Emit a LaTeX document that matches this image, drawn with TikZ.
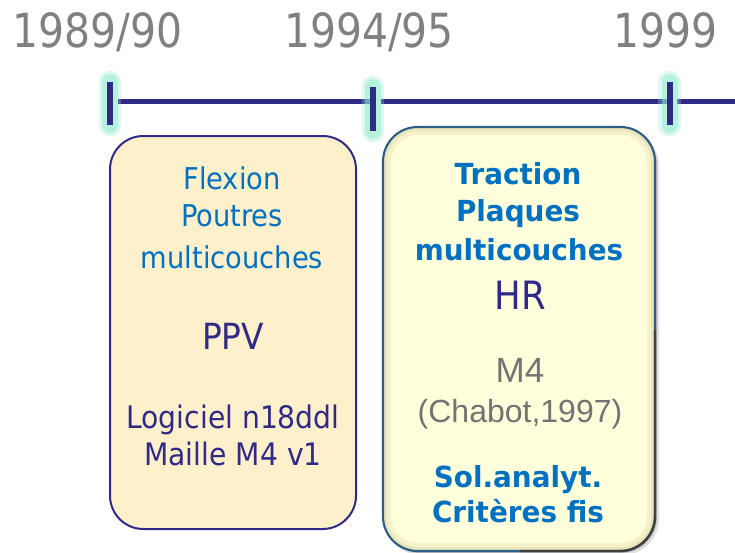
\documentclass[tikz,border=0pt]{standalone}
\usepackage{fontspec}
\setmainfont{DejaVu Sans}
\newfontfamily\yearf{DejaVu Sans}[FakeStretch=0.87]
\newfontfamily\regf{DejaVu Sans}[FakeStretch=0.91]
\newfontfamily\boldf{DejaVu Sans}[FakeStretch=0.96]
\newfontfamily\arialf{Liberation Sans}
\definecolor{navy}{HTML}{2E2A85}
\definecolor{txtblue}{HTML}{0070C0}
\definecolor{yeargray}{HTML}{808080}
\definecolor{glow}{HTML}{8FEBCB}
\definecolor{cream}{HTML}{FFF0CC}
\definecolor{paleyel}{HTML}{FFFFDC}
\definecolor{edgeblue}{HTML}{2B5F86}
\definecolor{innerrim}{HTML}{E3DAAE}
\tikzset{
  yearlabel/.style={anchor=base, inner sep=0pt, text=yeargray, font=\yearf\fontsize{35.25}{40}\selectfont},
  bluereg/.style={anchor=base, inner sep=0pt, text=txtblue, font=\regf\fontsize{22.5}{27}\selectfont},
  navyreg/.style={anchor=base, inner sep=0pt, text=navy, font=\regf\fontsize{23.25}{28}\selectfont},
  bluebold/.style={anchor=base, inner sep=0pt, text=txtblue, font=\boldf\bfseries\fontsize{21.75}{26}\selectfont},
  graylabel/.style={anchor=base, inner sep=0pt, text=yeargray!90!black},
  tickmark/.style={line width=4.5pt, navy},
  timeline/.style={line width=3.5pt, navy},
  glowA/.style={line width=17pt, glow, opacity=0.3, line cap=round},
  glowB/.style={line width=12pt, glow, opacity=0.5, line cap=round},
}
\begin{document}
\begin{tikzpicture}[x=0.75pt,y=-0.75pt]
\useasboundingbox (0,0) rectangle (735,553);
\fill[white] (0,0) rectangle (735,553);

% year labels
\node[yearlabel] (y1) at (97.5,47) {1989/90};
\node[yearlabel] (y2) at (369,47) {1994/95};
\node[yearlabel] (y3) at (666,47) {1999};

% tick coordinates
\coordinate (t1a) at (110,82);  \coordinate (t1b) at (110,125);
\coordinate (t2a) at (373,87);  \coordinate (t2b) at (373,131);
\coordinate (t3a) at (669.5,82); \coordinate (t3b) at (669.5,125);
\coordinate (l1s) at (118,101.5); \coordinate (l1e) at (373,101.5);
\coordinate (l2s) at (381,101.5); \coordinate (l2e) at (669.5,101.5);
\coordinate (l3s) at (677,101.5); \coordinate (l3e) at (735,101.5);

% timeline
\draw[timeline] (l1s) -- (l1e);
\draw[timeline] (l2s) -- (l2e);
\draw[timeline] (l3s) -- (l3e);

% glows and ticks
\foreach \a/\b in {t1a/t1b, t2a/t2b, t3a/t3b}{
  \draw[glowA] (\a) -- (\b);
  \draw[glowB] (\a) -- (\b);
  \draw[tickmark] (\a) -- (\b);
}

% left box
\draw[navy, line width=1.5pt, fill=cream, rounded corners=25pt] (110,136) rectangle (356,529);

% right box: shadow, fill, inner rim, border
\fill[black, opacity=0.12, rounded corners=27pt] (385,130) rectangle (659,555);
\fill[black, opacity=0.18, rounded corners=27pt] (384,129) rectangle (657,553);
\fill[paleyel, rounded corners=26pt] (383,127) rectangle (655,551);
\begin{scope}
  \clip[rounded corners=26pt] (383,127) rectangle (655,551);
  \draw[innerrim, opacity=0.35, line width=12pt, rounded corners=26pt] (383,127) rectangle (655,551);
  \draw[innerrim, opacity=0.5, line width=6pt, rounded corners=26pt] (383,127) rectangle (655,551);
\end{scope}
\draw[edgeblue, line width=1.6pt, rounded corners=26pt] (383,127) rectangle (655,551);
\begin{scope}
  \clip (520,330) rectangle (700,560);
  \draw[black!75, line width=1.8pt, rounded corners=26pt] (383,127) rectangle (655,551);
\end{scope}

% left box texts
\node[bluereg] (a1) at (232,189) {Flexion};
\node[bluereg] (a2) at (232,226) {Poutres};
\node[bluereg] (a3) at (232,268) {multicouches};
\node[anchor=base, inner sep=0pt, text=navy, font=\regf\fontsize{27}{32}\selectfont] (a4) at (233,349) {PPV};
\node[navyreg] (a5) at (233,428) {Logiciel n18ddl};
\node[navyreg] (a6) at (233,465) {Maille M4 v1};

% right box texts
\node[bluebold] (b1) at (518,184) {Traction};
\node[bluebold] (b2) at (518,221) {Plaques};
\node[bluebold] (b3) at (519,260) {multicouches};
\node[anchor=base, inner sep=0pt, text=navy, font=\regf\fontsize{29.25}{34}\selectfont] (b4) at (520,309) {HR};
\node[graylabel, font=\arialf\fontsize{26.25}{30}\selectfont] (b5) at (520,382) {M4};
\node[graylabel, font=\arialf\fontsize{24}{28}\selectfont] (b6) at (520,422) {(Chabot,1997)};
\node[bluebold] (b7) at (518,487) {Sol.analyt.};
\node[bluebold] (b8) at (518,522) {Critères fis};
\end{tikzpicture}
\end{document}
